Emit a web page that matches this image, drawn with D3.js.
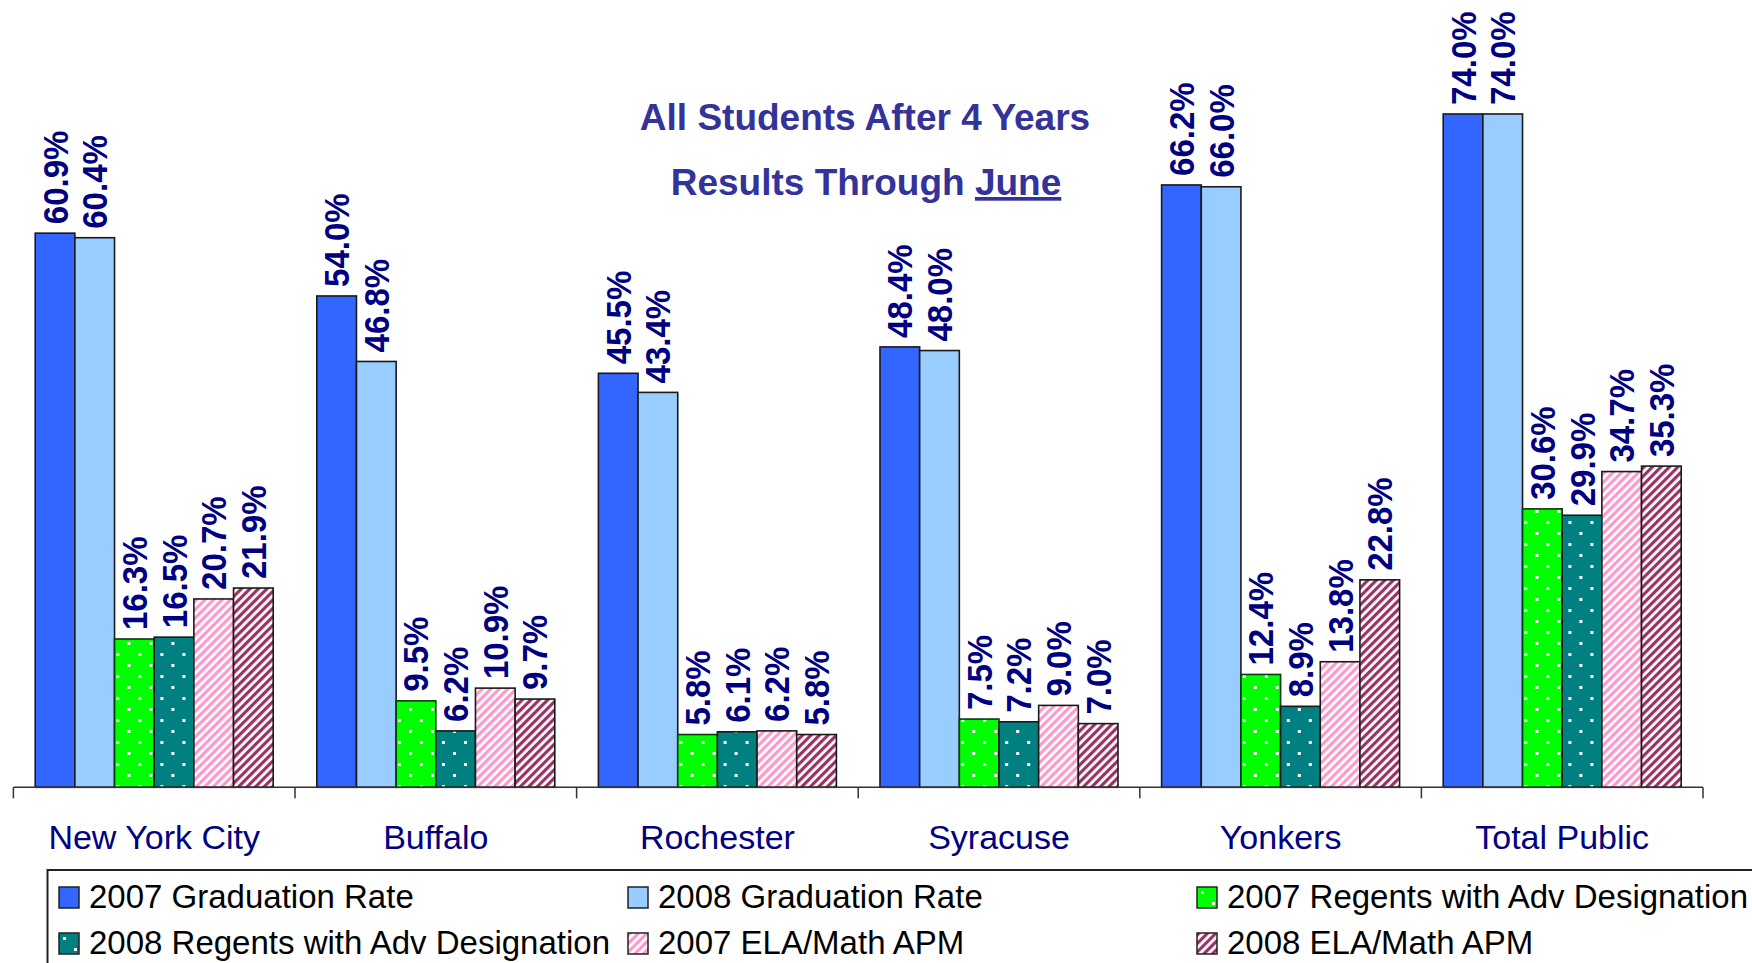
<!DOCTYPE html>
<html lang="en">

<head>
    <title>All Students After 4 Years</title>
    <meta charset="utf-8">
    <script src="https://d3js.org/d3.v7.min.js"></script>
    <style>
        body {
            margin: 0;
            background: #fff;
        }

        svg text {
            font-family: "Liberation Sans", Arial, sans-serif;
        }
    </style>
</head>

<body>
    <div id="container1"></div>
    <script>
        // Data
        const cities = ["New York City", "Buffalo", "Rochester", "Syracuse", "Yonkers", "Total Public"];
        const seriesNames = [
            "2007 Graduation Rate",
            "2008 Graduation Rate",
            "2007 Regents with Adv Designation",
            "2008 Regents with Adv Designation",
            "2007 ELA/Math APM",
            "2008 ELA/Math APM"
        ];
        const grad2007 = [60.9, 54.0, 45.5, 48.4, 66.2, 74.0];
        const grad2008 = [60.4, 46.8, 43.4, 48.0, 66.0, 74.0];
        const regents2007 = [16.3, 9.5, 5.8, 7.5, 12.4, 30.6];
        const regents2008 = [16.5, 6.2, 6.1, 7.2, 8.9, 29.9];
        const apm2007 = [20.7, 10.9, 6.2, 9.0, 13.8, 34.7];
        const apm2008 = [21.9, 9.7, 5.8, 7.0, 22.8, 35.3];

        const seriesValues = [grad2007, grad2008, regents2007, regents2008, apm2007, apm2008];

        // Chart dimensions
        const width = 1752;
        const height = 963;
        const axisLeft = 13.4;
        const axisRight = 1703;
        const baseline = 787.3;

        const svg = d3.select("#container1")
            .append("svg")
            .attr("width", width)
            .attr("height", height);

        // Fill patterns
        const defs = svg.append("defs");

        const dots = [
            { id: "dots-green", color: "#00ff00" },
            { id: "dots-teal", color: "#008080" }
        ];
        dots.forEach(p => {
            const pat = defs.append("pattern")
                .attr("id", p.id)
                .attr("patternUnits", "userSpaceOnUse")
                .attr("width", 22)
                .attr("height", 22);
            pat.append("rect").attr("width", 22).attr("height", 22).attr("fill", p.color);
            pat.append("rect").attr("x", 4).attr("y", 4).attr("width", 3).attr("height", 3).attr("fill", "#fff");
            pat.append("rect").attr("x", 15).attr("y", 15).attr("width", 3).attr("height", 3).attr("fill", "#fff");
        });

        const stripes = [
            { id: "stripes-pink", color: "#ff99cc" },
            { id: "stripes-maroon", color: "#993366" }
        ];
        stripes.forEach(p => {
            const pat = defs.append("pattern")
                .attr("id", p.id)
                .attr("patternUnits", "userSpaceOnUse")
                .attr("width", 6)
                .attr("height", 6)
                .attr("patternTransform", "rotate(45)");
            pat.append("rect").attr("width", 6).attr("height", 6).attr("fill", "#fff");
            pat.append("rect").attr("width", 3.2).attr("height", 6).attr("fill", p.color);
        });

        const fills = ["#3366ff", "#99ccff", "url(#dots-green)", "url(#dots-teal)", "url(#stripes-pink)", "url(#stripes-maroon)"];
        const strokes = ["#1a1a1a", "#1a1a1a", "#0a3a0a", "#1a1a1a", "#1a1a1a", "#1a1a1a"];

        // Scales
        const x0 = d3.scaleBand()
            .domain(cities)
            .range([axisLeft, axisRight])
            .padding(0);

        const x1 = d3.scaleBand()
            .domain(d3.range(seriesNames.length))
            .range([21.8, x0.bandwidth() - 21.8])
            .padding(0);

        const y = d3.scaleLinear()
            .domain([0, 80])
            .range([baseline, baseline - 80 * 9.099]);

        // Title
        const title = svg.append("g")
            .attr("fill", "#333399")
            .attr("font-weight", "bold")
            .attr("font-size", 37)
            .attr("text-anchor", "middle");

        title.append("text")
            .attr("x", 865)
            .attr("y", 130)
            .text("All Students After 4 Years");

        const line2 = title.append("text")
            .attr("x", 866)
            .attr("y", 195);
        line2.append("tspan").text("Results Through ");
        line2.append("tspan").attr("text-decoration", "underline").text("June");

        // Bars
        const groups = svg.selectAll(".city")
            .data(cities)
            .enter().append("g")
            .attr("class", "city")
            .attr("transform", d => `translate(${x0(d)},0)`);

        groups.selectAll("rect")
            .data((d, ci) => seriesValues.map((vals, si) => ({ si, value: vals[ci] })))
            .enter().append("rect")
            .attr("x", d => x1(d.si))
            .attr("y", d => y(d.value))
            .attr("width", x1.bandwidth())
            .attr("height", d => baseline - y(d.value))
            .attr("fill", d => fills[d.si])
            .attr("stroke", d => strokes[d.si])
            .attr("stroke-width", 1.6);

        // Value labels
        groups.selectAll(".value")
            .data((d, ci) => seriesValues.map((vals, si) => ({ si, value: vals[ci] })))
            .enter().append("text")
            .attr("class", "value")
            .attr("transform", d => `translate(${x1(d.si) + x1.bandwidth() / 2},${y(d.value) - 9}) rotate(-90) scale(1,1.08)`)
            .attr("dy", "0.35em")
            .attr("text-anchor", "start")
            .attr("font-size", 33)
            .attr("font-weight", "bold")
            .attr("fill", "#000080")
            .text(d => d.value.toFixed(1) + "%");

        // X axis
        const axis = svg.append("g");
        axis.append("line")
            .attr("x1", axisLeft)
            .attr("x2", axisRight)
            .attr("y1", baseline)
            .attr("y2", baseline)
            .attr("stroke", "#333")
            .attr("stroke-width", 1.5);

        axis.selectAll(".tick")
            .data(d3.range(cities.length + 1))
            .enter().append("line")
            .attr("class", "tick")
            .attr("x1", i => axisLeft + i * x0.step())
            .attr("x2", i => axisLeft + i * x0.step())
            .attr("y1", baseline)
            .attr("y2", baseline + 11)
            .attr("stroke", "#333")
            .attr("stroke-width", 1.5);

        axis.selectAll(".cat")
            .data(cities)
            .enter().append("text")
            .attr("class", "cat")
            .attr("x", d => x0(d) + x0.bandwidth() / 2)
            .attr("y", 849)
            .attr("text-anchor", "middle")
            .attr("font-size", 34)
            .attr("fill", "#000080")
            .text(d => d);

        // Legend
        const legend = svg.append("g");
        legend.append("rect")
            .attr("x", 47.5)
            .attr("y", 870)
            .attr("width", 1800)
            .attr("height", 200)
            .attr("fill", "none")
            .attr("stroke", "#222")
            .attr("stroke-width", 2);

        const items = legend.selectAll(".item")
            .data(seriesNames)
            .enter().append("g")
            .attr("class", "item")
            .attr("transform", (d, i) => `translate(${59 + (i % 3) * 569},${887 + Math.floor(i / 3) * 46})`);

        items.append("rect")
            .attr("width", 20)
            .attr("height", 21)
            .attr("fill", (d, i) => fills[i])
            .attr("stroke", "#222")
            .attr("stroke-width", 1.5);

        items.append("text")
            .attr("x", 30)
            .attr("y", 21)
            .attr("font-size", 33)
            .attr("fill", "#000")
            .text(d => d);
    </script>
</body>

</html>
